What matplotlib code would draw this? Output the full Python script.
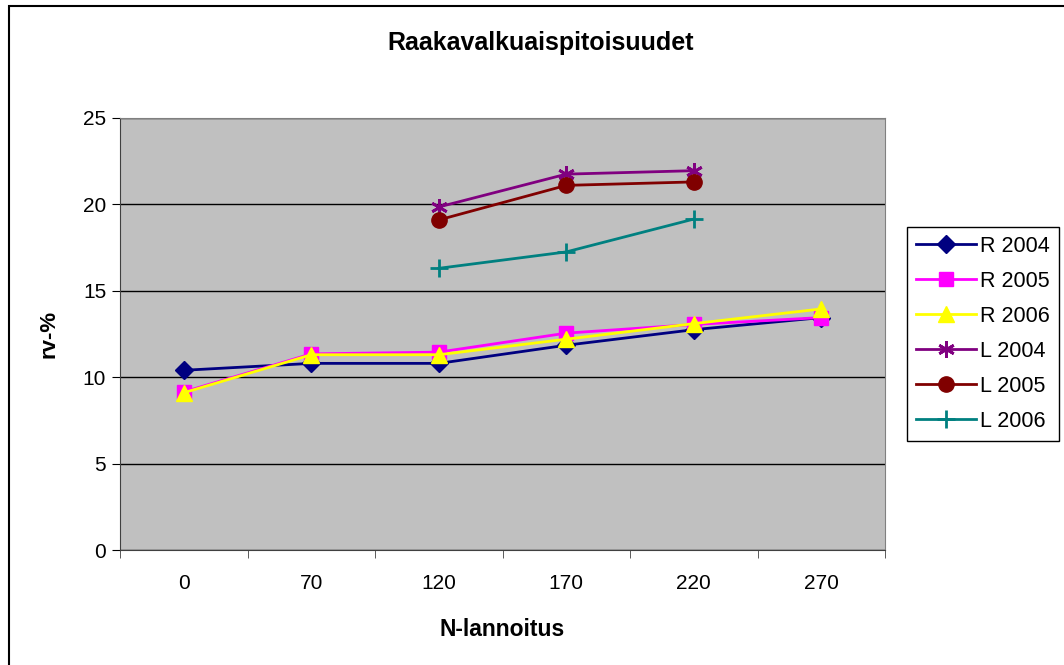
import numpy as np
import matplotlib.pyplot as plt
from matplotlib.patches import Rectangle

plt.rcParams['font.family'] = ['Liberation Sans', 'DejaVu Sans']

categories = ['0', '70', '120', '170', '220', '270']
r2004 = [10.4, 10.8, 10.8, 11.85, 12.75, 13.45]
r2005 = [9.15, 11.35, 11.45, 12.55, 13.05, 13.45]
r2006 = [9.1, 11.3, 11.3, 12.2, 13.1, 13.95]
l_cats = ['120', '170', '220']
l2004 = [19.85, 21.75, 21.95]
l2005 = [19.1, 21.1, 21.3]
l2006 = [16.3, 17.25, 19.15]

x = np.arange(len(categories))
xl = np.array([categories.index(c) for c in l_cats])

fig = plt.figure(figsize=(10.64, 6.65), dpi=100)
# chart border, open at the bottom-right like the source image
fig.add_artist(Rectangle((9 / 1064, -0.1), 1.2, 1.1 - 6 / 665, transform=fig.transFigure,
                         fill=False, edgecolor='black', lw=1.5))
ax = fig.add_axes([0.1128, 0.1729, 0.719, 0.6497])
ax.set_facecolor('#C0C0C0')

lw = 2
ax.plot(x, r2004, color='#000080', marker='D', markersize=9, lw=lw, label='R 2004')
ax.plot(x, r2005, color='#FF00FF', marker='s', markersize=10, lw=lw, label='R 2005')
ax.plot(x, r2006, color='#FFFF00', marker='^', markersize=11, lw=lw, label='R 2006')
ax.plot(xl, l2004, color='#800080', marker=(6, 2, 0), markersize=12, mew=2, lw=lw, label='L 2004')
ax.plot(xl, l2005, color='#800000', marker='o', markersize=11, lw=lw, label='L 2005')
ax.plot(xl, l2006, color='#008080', marker='+', markersize=13, mew=2, lw=lw, label='L 2006')

ax.set_xlim(-0.5, len(categories) - 0.5)
ax.set_ylim(0, 25)
ax.set_yticks(np.arange(0, 26, 5))
ax.yaxis.grid(True, color='black', lw=1)
ax.set_axisbelow(True)
ax.set_xticks(x)
ax.set_xticklabels(categories)
ax.set_xticks(np.arange(-0.5, len(categories), 1), minor=True)
ax.tick_params(axis='x', which='major', length=0, pad=17, labelsize=15)
ax.tick_params(axis='x', which='minor', length=6, direction='out', color='#404040')
ax.tick_params(axis='y', length=6, direction='out', labelsize=15, pad=4)

for s in ['top', 'right']:
    ax.spines[s].set_color('#808080')
for s in ['left', 'bottom']:
    ax.spines[s].set_color('#404040')

ax.set_title('Raakavalkuaispitoisuudet', fontsize=18, fontweight='bold', pad=49, x=0.55)
ax.set_xlabel('N-lannoitus', fontsize=16.5, fontweight='bold', labelpad=18)
ax.set_ylabel('rv-%', fontsize=16, fontweight='bold', labelpad=17)

leg = ax.legend(loc='center left', bbox_to_anchor=(1.029, 0.5), fontsize=15.5, frameon=True,
                fancybox=False, edgecolor='black', framealpha=1, handlelength=2.8,
                handletextpad=0.2, borderpad=0.4, labelspacing=0.65, borderaxespad=0)
leg.get_frame().set_linewidth(1)

plt.savefig('out.png', dpi=100)
